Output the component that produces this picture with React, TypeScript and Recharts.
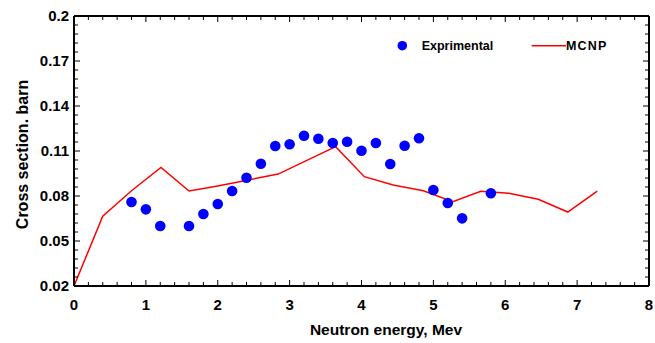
import React from 'react';
import { ComposedChart, Line, Scatter, XAxis, YAxis } from 'recharts';

// MCNP simulation (line)
const mcnpEnergy = [0, 0.4, 0.8, 1.21, 1.6, 2.0, 2.84, 3.64, 4.04, 4.44, 4.86, 5.27, 5.66, 6.05, 6.46, 6.87, 7.28];
const mcnpCross = [0.02, 0.0665, 0.0835, 0.099, 0.0833, 0.0867, 0.0946, 0.1129, 0.0929, 0.0873, 0.0835, 0.0762, 0.0831, 0.0818, 0.0778, 0.0693, 0.0833];

// Experimental points (scatter)
const expEnergy = [0.8, 1.0, 1.2, 1.6, 1.8, 2.0, 2.2, 2.4, 2.6, 2.8, 3.0, 3.2, 3.4, 3.6, 3.8, 4.0, 4.2, 4.4, 4.6, 4.8, 5.0, 5.2, 5.4, 5.8];
const expCross = [0.076, 0.0711, 0.06, 0.06, 0.068, 0.0747, 0.0833, 0.0922, 0.1015, 0.1133, 0.1145, 0.1202, 0.1182, 0.1153, 0.1162, 0.1102, 0.1153, 0.1013, 0.1135, 0.1185, 0.084, 0.0753, 0.0651, 0.0818];

const xMajorTicks = [0, 1, 2, 3, 4, 5, 6, 7, 8];
const xTickLabels = ['0', '1', '2', '3', '4', '5', '6', '7', '8'];
const yMajorTicks = [0.02, 0.05, 0.08, 0.11, 0.14, 0.17, 0.2];
const yTickLabels = ['0.02', '0.05', '0.08', '0.11', '0.14', '0.17', '0.2'];
const seriesNames = ['Exprimental', 'MCNP'];
const xTitle = 'Neutron energy, Mev';
const yTitle = 'Cross section. barn';

const mcnpData = mcnpEnergy.map((x, i) => ({ x, y: mcnpCross[i] }));
const expData = expEnergy.map((x, i) => ({ x, y: expCross[i] }));

const xAllTicks: number[] = [];
for (let i = 0; i <= 40; i++) xAllTicks.push(Math.round(i * 0.2 * 1000) / 1000);
const yAllTicks: number[] = [];
for (let i = 0; i <= 30; i++) yAllTicks.push(Math.round((0.02 + i * 0.006) * 10000) / 10000);

const majorIndex = (v: number, majors: number[]) => majors.findIndex((m) => Math.abs(m - v) < 1e-6);

const FONT = '"Liberation Sans", Arial, sans-serif';
const MAJOR = 6;
const MINOR = 4;

const BottomTick = (props: any) => {
  const { x, y, payload } = props;
  const idx = majorIndex(payload.value, xMajorTicks);
  return (
    <g>
      <line x1={x} x2={x} y1={y} y2={y - (idx >= 0 ? MAJOR : MINOR)} stroke="#000" strokeWidth={1} />
      {idx >= 0 && (
        <text x={x} y={y + 23.5} textAnchor="middle" fontFamily={FONT} fontWeight="bold" fontSize={15} fill="#000">
          {xTickLabels[idx]}
        </text>
      )}
    </g>
  );
};

const TopTick = (props: any) => {
  const { x, y, payload } = props;
  const idx = majorIndex(payload.value, xMajorTicks);
  return <line x1={x} x2={x} y1={y} y2={y + (idx >= 0 ? MAJOR : MINOR)} stroke="#000" strokeWidth={1} />;
};

const LeftTick = (props: any) => {
  const { x, y, payload } = props;
  const idx = majorIndex(payload.value, yMajorTicks);
  return (
    <g>
      <line x1={x} x2={x + (idx >= 0 ? MAJOR : MINOR)} y1={y} y2={y} stroke="#000" strokeWidth={1} />
      {idx >= 0 && (
        <text x={x - 5} y={y} dy="0.36em" textAnchor="end" fontFamily={FONT} fontWeight="bold" fontSize={15} fill="#000">
          {yTickLabels[idx]}
        </text>
      )}
    </g>
  );
};

const RightTick = (props: any) => {
  const { x, y, payload } = props;
  const idx = majorIndex(payload.value, yMajorTicks);
  return <line x1={x} x2={x - (idx >= 0 ? MAJOR : MINOR)} y1={y} y2={y} stroke="#000" strokeWidth={1} />;
};

const Dot = (props: any) => <circle cx={props.cx} cy={props.cy} r={5.3} fill="#0000ff" />;

const axisLine = { stroke: '#000', strokeWidth: 2 };

export default function App() {
  return (
    <div style={{ position: 'absolute', left: 0, top: 0, width: 655, height: 343, background: '#fff' }}>
      <ComposedChart width={655} height={343} margin={{ top: 0, right: 0, bottom: 0, left: 0 }}>
        <XAxis
          xAxisId="bottom"
          type="number"
          dataKey="x"
          domain={[0, 8]}
          ticks={xAllTicks}
          interval={0}
          allowDataOverflow
          height={57}
          tickSize={0}
          tickMargin={0}
          axisLine={axisLine}
          tickLine={false}
          tick={<BottomTick />}
        />
        <XAxis
          xAxisId="top"
          orientation="top"
          type="number"
          dataKey="x"
          domain={[0, 8]}
          ticks={xAllTicks}
          interval={0}
          allowDataOverflow
          height={16}
          tickSize={0}
          tickMargin={0}
          axisLine={axisLine}
          tickLine={false}
          tick={<TopTick />}
        />
        <YAxis
          yAxisId="left"
          type="number"
          dataKey="y"
          domain={[0.02, 0.2]}
          ticks={yAllTicks}
          interval={0}
          allowDataOverflow
          width={74}
          tickSize={0}
          tickMargin={0}
          axisLine={axisLine}
          tickLine={false}
          tick={<LeftTick />}
        />
        <YAxis
          yAxisId="right"
          orientation="right"
          type="number"
          dataKey="y"
          domain={[0.02, 0.2]}
          ticks={yAllTicks}
          interval={0}
          allowDataOverflow
          width={6}
          tickSize={0}
          tickMargin={0}
          axisLine={axisLine}
          tickLine={false}
          tick={<RightTick />}
        />
        <Line
          xAxisId="bottom"
          yAxisId="left"
          data={mcnpData}
          dataKey="y"
          name={seriesNames[1]}
          type="linear"
          stroke="#ff0000"
          strokeWidth={1.5}
          dot={false}
          activeDot={false}
          isAnimationActive={false}
        />
        <Scatter
          xAxisId="bottom"
          yAxisId="left"
          data={expData}
          dataKey="y"
          name={seriesNames[0]}
          fill="#0000ff"
          shape={<Dot />}
          isAnimationActive={false}
        />
        <g>
          <circle cx={402.3} cy={45.7} r={4.8} fill="#0000ff" />
          <text x={421.7} y={45.7} dy="0.36em" fontFamily={FONT} fontWeight="bold" fontSize={12.5} fill="#000">
            {seriesNames[0]}
          </text>
          <line x1={531.7} x2={566} y1={45.7} y2={45.7} stroke="#ff0000" strokeWidth={1.5} />
          <text x={566} y={45.7} dy="0.36em" fontFamily={FONT} fontWeight="bold" fontSize={12.5} letterSpacing={1.2} fill="#000">
            {seriesNames[1]}
          </text>
        </g>
        <text x={386} y={335} textAnchor="middle" fontFamily={FONT} fontWeight="bold" fontSize={15.5} fill="#000">
          {xTitle}
        </text>
        <text
          x={28.3}
          y={154.5}
          textAnchor="middle"
          transform="rotate(-90 28.3 154.5)"
          fontFamily={FONT}
          fontWeight="bold"
          fontSize={16}
          fill="#000"
        >
          {yTitle}
        </text>
      </ComposedChart>
    </div>
  );
}
